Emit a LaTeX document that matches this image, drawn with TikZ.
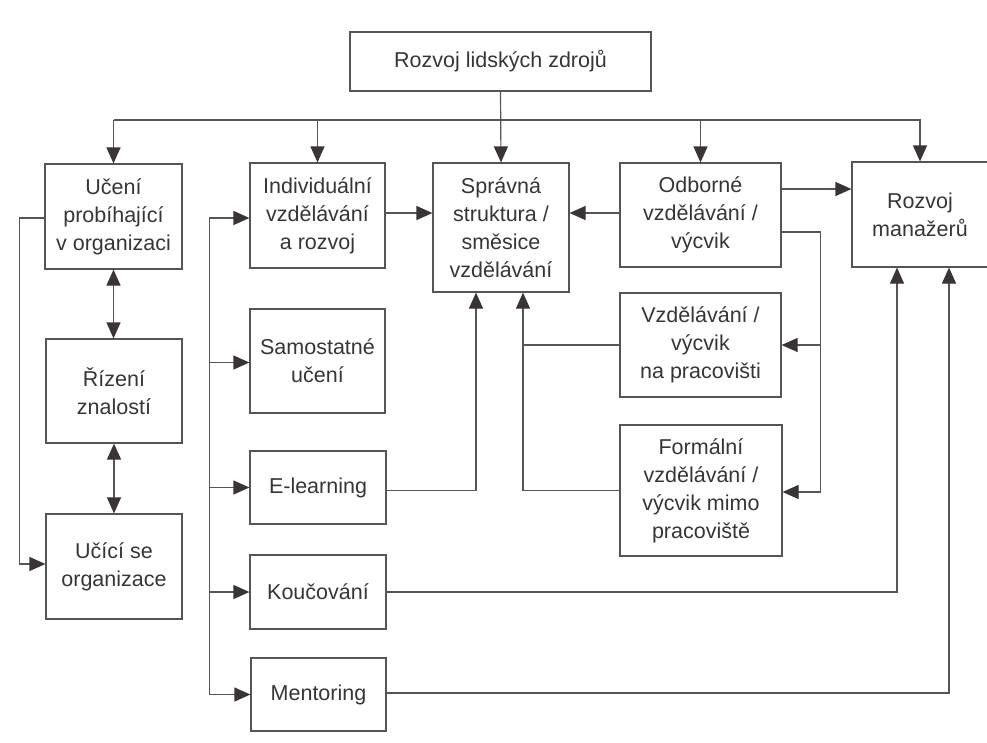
\documentclass[tikz,border=0pt]{standalone}
\usepackage{fontspec}
\setmainfont{Liberation Sans}
\usetikzlibrary{arrows.meta,calc}
\definecolor{ink}{HTML}{363636}
\definecolor{wire}{HTML}{555555}
\definecolor{head}{HTML}{3A3436}
\begin{document}
\begin{tikzpicture}[x=1pt,y=-1pt,
  box/.style={draw=wire,line width=1.2pt,rectangle,inner sep=0pt,align=center,
    text=ink,font=\fontsize{21.5}{28}\selectfont},
  wire/.style={draw=wire,line width=1.2pt},
  arr/.style={wire,-{Triangle[length=16pt,width=14pt,color=head]}},
  arrb/.style={wire,{Triangle[length=16pt,width=14pt,color=head]}-{Triangle[length=16pt,width=14pt,color=head]}}]
\useasboundingbox (0,0) rectangle (987,742);
\clip (0,0) rectangle (987,742);
\fill[white] (0,0) rectangle (987,742);

% boxes
\node[box,minimum width=301pt,minimum height=59pt] (top) at (500.5,61.5) {Rozvoj lidských zdrojů};
\node[box,minimum width=137pt,minimum height=105pt] (uceni) at (113.5,216.5) {Učení\\probíhající\\v organizaci};
\node[box,minimum width=135pt,minimum height=105pt] (indiv) at (317.5,215.5) {Individuální\\vzdělávání\\a rozvoj};
\node[box,minimum width=136pt,minimum height=129pt] (sprav) at (501,227.5) {Správná\\struktura /\\směsice\\vzdělávání};
\node[box,minimum width=161pt,minimum height=104pt] (odb) at (700.5,215) {Odborné\\vzdělávání /\\výcvik};
\node[box,minimum width=136pt,minimum height=105pt] (rozm) at (920,214.5) {Rozvoj\\manažerů};
\node[box,minimum width=136pt,minimum height=104pt] (rizeni) at (114,391) {Řízení\\znalostí};
\node[box,minimum width=136pt,minimum height=105pt] (ucici) at (114,566.5) {Učící se\\organizace};
\node[box,minimum width=135pt,minimum height=104pt] (samost) at (317.5,361) {Samostatné\\učení};
\node[box,minimum width=136pt,minimum height=73pt] (elearn) at (318,487.5) {E-learning};
\node[box,minimum width=136pt,minimum height=74pt] (kouc) at (318,592) {Koučování};
\node[box,minimum width=135pt,minimum height=73pt] (ment) at (318.5,694.5) {Mentoring};
\node[box,minimum width=161pt,minimum height=104pt] (vzdel) at (700.5,345) {Vzdělávání /\\výcvik\\na pracovišti};
\node[box,minimum width=162pt,minimum height=131pt] (form) at (701,490.5) {Formální\\vzdělávání /\\výcvik mimo\\pracoviště};

% distribution bus under the top box
\coordinate (busL) at (113.5,120);
\coordinate (busR) at (921,120);
\draw[wire] (busL) -- (busR);
\draw[arr] (top.south) -- (sprav.north);
\draw[arr] (busL) -- (uceni.north);
\draw[arr] (indiv.north |- busL) -- (indiv.north);
\draw[arr] (odb.north |- busL) -- (odb.north);
\draw[arr] (rozm.north |- busL) -- (rozm.north);

% left column
\draw[arrb] (uceni.south) -- (uceni.south |- rizeni.north);
\draw[arrb] (rizeni.south) -- (rizeni.south |- ucici.north);
\coordinate (uOut) at ($(uceni.west)+(0,1.5)$);
\coordinate (oIn) at ($(ucici.west)+(0,-2.5)$);
\draw[arr] (uOut) -- ++(-25,0) |- (oIn);

% middle column feeder
\coordinate (iIn) at ($(indiv.west)+(0,2.5)$);
\coordinate (sIn) at ($(samost.west)+(0,1.5)$);
\coordinate (feedTop) at ($(iIn)+(-40,0)$);
\draw[wire] (feedTop) -- (feedTop |- ment.west);
\draw[arr] (feedTop) -- (iIn);
\draw[arr] (feedTop |- sIn) -- (sIn);
\draw[arr] (feedTop |- elearn.west) -- (elearn.west);
\draw[arr] (feedTop |- kouc.west) -- (kouc.west);
\draw[arr] (feedTop |- ment.west) -- (ment.west);

% into the central box
\coordinate (iOut) at ($(indiv.east)+(0,-2.5)$);
\draw[arr] (iOut) -- (iOut -| sprav.west);
\coordinate (oOut) at ($(odb.west)+(0,-2)$);
\draw[arr] (oOut) -- (oOut -| sprav.east);
\coordinate (sprL) at ($(sprav.south)+(-25,0)$);
\coordinate (sprR) at ($(sprav.south)+(22,0)$);
\coordinate (eOut) at ($(elearn.east)+(0,3)$);
\draw[arr] (eOut) -| (sprL);
\draw[arr] (form.west) -| (sprR);
\draw[wire] (vzdel.west) -- (vzdel.west -| sprR);

% from the professional training box
\coordinate (oMan) at ($(odb.east)+(0,-26)$);
\draw[arr] (oMan) -- (oMan -| rozm.west);
\coordinate (oDown) at ($(odb.east)+(0,17)$);
\coordinate (fIn) at ($(form.east)+(0,1.5)$);
\coordinate (rTop) at ($(oDown)+(39,0)$);
\draw[wire] (oDown) -- (rTop) -- (rTop |- fIn);
\draw[arr] (rTop |- vzdel.east) -- (vzdel.east);
\draw[arr] (rTop |- fIn) -- (fIn);

% into management development
\draw[arr] (kouc.east) -| ($(rozm.south)+(-23,0)$);
\coordinate (mOut) at ($(ment.east)+(0,-1.5)$);
\draw[arr] (mOut) -| ($(rozm.south)+(29,0)$);
\end{tikzpicture}
\end{document}
